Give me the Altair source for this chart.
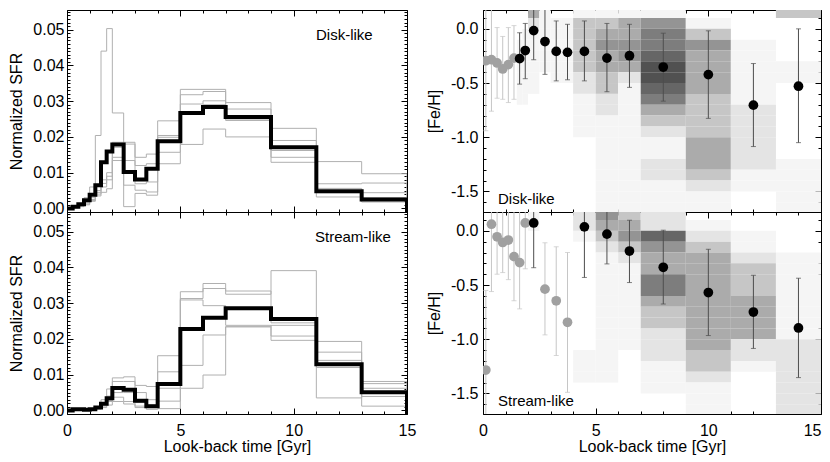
import altair as alt
import pandas as pd

FONT = "Liberation Sans"

# ---------------- data ----------------
# age-bin edges and centres (Gyr)
edges = [0.0, 0.25, 0.5, 0.75, 1.0, 1.25, 1.5, 1.75, 2.0, 2.5, 3.0, 3.5, 4.0, 5.0, 6.0, 7.0, 9.0, 11.0, 13.0, 15.0]
centers = [0.125, 0.375, 0.625, 0.875, 1.125, 1.375, 1.625, 1.875, 2.25, 2.75, 3.25, 3.75, 4.5, 5.5, 6.5, 8.0, 10.0, 12.0, 14.0]

# normalized SFR per bin: best fit (thick) and individual runs (thin)
disk_sfr = [0.0000, 0.0005, 0.0012, 0.0023, 0.0038, 0.0065, 0.0129, 0.0159, 0.0179, 0.0102, 0.0081, 0.0111, 0.0188, 0.0267, 0.0284, 0.0256, 0.0171, 0.0048, 0.0025]
disk_run1 = [0.0000, 0.0003, 0.0010, 0.0030, 0.0060, 0.0204, 0.0440, 0.0503, 0.0267, 0.0005, 0.0042, 0.0037, 0.0245, 0.0333, 0.0333, 0.0296, 0.0224, 0.0131, 0.0097]
disk_run2 = [0.0000, 0.0002, 0.0005, 0.0010, 0.0020, 0.0035, 0.0045, 0.0055, 0.0134, 0.0065, 0.0051, 0.0046, 0.0125, 0.0179, 0.0222, 0.0200, 0.0143, 0.0032, 0.0018]
disk_run3 = [0.0000, 0.0004, 0.0010, 0.0018, 0.0030, 0.0050, 0.0080, 0.0100, 0.0185, 0.0185, 0.0143, 0.0152, 0.0204, 0.0318, 0.0327, 0.0278, 0.0190, 0.0069, 0.0071]
disk_run4 = [0.0000, 0.0003, 0.0008, 0.0015, 0.0025, 0.0045, 0.0070, 0.0090, 0.0171, 0.0180, 0.0120, 0.0125, 0.0199, 0.0292, 0.0301, 0.0250, 0.0162, 0.0056, 0.0044]
disk_run5 = [0.0000, 0.0002, 0.0006, 0.0012, 0.0022, 0.0040, 0.0060, 0.0080, 0.0143, 0.0134, 0.0069, 0.0074, 0.0157, 0.0270, 0.0290, 0.0246, 0.0129, 0.0044, 0.0030]

stream_sfr = [0.0000, 0.0003, 0.0003, 0.0002, 0.0003, 0.0008, 0.0019, 0.0034, 0.0063, 0.0058, 0.0027, 0.0012, 0.0074, 0.0228, 0.0259, 0.0286, 0.0256, 0.0129, 0.0051]
stream_run1 = [0.0000, 0.0000, 0.0002, 0.0003, 0.0005, 0.0010, 0.0030, 0.0060, 0.0091, 0.0094, 0.0070, 0.0067, 0.0153, 0.0332, 0.0355, 0.0334, 0.0245, 0.0193, 0.0081]
stream_run2 = [0.0000, 0.0002, 0.0003, 0.0003, 0.0004, 0.0008, 0.0020, 0.0040, 0.0081, 0.0081, 0.0050, 0.0030, 0.0108, 0.0313, 0.0341, 0.0325, 0.0391, 0.0035, 0.0062]
stream_run3 = [0.0000, 0.0000, 0.0001, 0.0002, 0.0003, 0.0005, 0.0012, 0.0025, 0.0050, 0.0050, 0.0022, 0.0015, 0.0062, 0.0309, 0.0293, 0.0238, 0.0208, 0.0163, 0.0075]
stream_run4 = [0.0000, 0.0001, 0.0002, 0.0002, 0.0003, 0.0006, 0.0015, 0.0028, 0.0037, 0.0025, 0.0012, 0.0008, 0.0026, 0.0126, 0.0211, 0.0234, 0.0238, 0.0120, 0.0039]
stream_run5 = [0.0000, 0.0000, 0.0001, 0.0001, 0.0002, 0.0004, 0.0008, 0.0015, 0.0025, 0.0018, 0.0008, 0.0003, 0.0005, 0.0062, 0.0099, 0.0234, 0.0196, 0.0140, 0.0012]

# [Fe/H] per bin, error bar ends, and whether the bin is well populated
disk_feh = [-0.294, -0.285, -0.315, -0.37, -0.33, -0.27, -0.275, -0.20, -0.016, -0.117, -0.208, -0.217, -0.208, -0.27, -0.248, -0.352, -0.422, -0.704, -0.529]
disk_lo = [-0.94, -0.76, -0.64, -0.65, -0.68, -0.65, -0.51, -0.46, -0.285, -0.42, -0.48, -0.47, -0.48, -0.58, -0.54, -0.667, -0.826, -1.086, -1.05]
disk_hi = [0.3, 0.3, 0.012, -0.07, 0.012, 0.03, -0.036, 0.05, 0.3, 0.3, 0.073, 0.042, 0.073, 0.05, 0.042, -0.04, -0.018, -0.32, 0.0]
disk_ok = [False] * 6 + [True] * 13

stream_feh = [-1.284, 0.061, -0.055, -0.107, -0.085, -0.238, -0.293, 0.073, 0.073, -0.538, -0.645, -0.844, 0.037, -0.03, -0.186, -0.336, -0.569, -0.749, -0.896]
stream_lo = [-1.8, -0.56, -0.40, -0.385, -0.45, -0.645, -0.72, -0.35, -0.34, -0.96, -1.15, -1.49, -0.43, -0.305, -0.477, -0.675, -0.966, -1.085, -1.354]
stream_hi = [-0.55, 0.3, 0.3, 0.3, 0.3, 0.3, 0.3, 0.3, 0.3, -0.11, -0.147, -0.2, 0.3, 0.3, 0.098, 0.006, -0.17, -0.41, -0.437]
stream_ok = [False] * 8 + [True] + [False] * 3 + [True] * 7

# 2-D density behind the [Fe/H] points: one string per age bin,
# one digit (0 = empty .. 9 = densest) per 0.1-dex row, top row first
feh_row_top = [0.2, 0.1, 0.0, -0.1, -0.2, -0.3, -0.4, -0.5, -0.6, -0.7, -0.8, -0.9, -1.0, -1.1, -1.2, -1.3, -1.4, -1.5, -1.6]
disk_density = [
    "0000000000000000000", "0000000000000000000", "0000000000000000000", "0000000000000000000",
    "0000000000000000000", "0000000000000000000", "0001111110000000000", "0011111110000000000",
    "4211111100000000000", "1111110000000000000", "0111111000000000000", "0111111000000000000",
    "1333332211110000000", "1345443322111111111", "1445542111111111111", "1566788764321122111",
    "0135444433334443211", "0001111112222221100", "3000011000000011111",
]
stream_density = [
    "0000000000000000000", "0000000000000000000", "0000000000000000000", "0000000000000000000",
    "0000000000000000000", "0000000000000000000", "0000000000000000000", "0000000000000000000",
    "1100000000000000000", "0000000000000000000", "0000000000000000000", "0000000000000000000",
    "2210000000000111000", "5432111111111111000", "3453211111111000000", "2275446643322211100",
    "0123444444444332111", "0011233344442210000", "0000111111112222222",
]

# axis tick positions
t_major = [0, 5, 10, 15]
t_minor = list(range(0, 16))
sfr_major = [0.0, 0.01, 0.02, 0.03, 0.04, 0.05]
sfr_minor = [round(0.001 * i, 3) for i in range(0, 56)]
feh_major = [-1.5, -1.0, -0.5, 0.0]
feh_minor = [-1.7, -1.6, -1.5, -1.4, -1.3, -1.2, -1.1, -1.0, -0.9, -0.8, -0.7, -0.6, -0.5, -0.4, -0.3, -0.2, -0.1, 0.0, 0.1]

T_DOM = [0, 15]
SFR_DOM = [-0.001, 0.0555]
FEH_DOM = [-1.69, 0.174]

GRAYS = ["#ffffff", "#f5f5f5", "#e4e4e4", "#c6c6c6", "#ababab", "#949494", "#7d7d7d", "#666666", "#515151", "#3e3e3e"]

# ---------------- frames ----------------
def sfr_frame(series):
    rows = []
    for name, vals in series:
        pts = list(zip(edges[:-1], vals)) + [(edges[-1], vals[-1]), (edges[-1], SFR_DOM[0])]
        for i, (t, v) in enumerate(pts):
            rows.append({"series": name, "t": t, "sfr": v, "order": i})
    return pd.DataFrame(rows)


def density_frame(cols):
    rows = []
    for i, col in enumerate(cols):
        for j, ch in enumerate(col):
            lev = int(ch)
            if lev > 0:
                rows.append({"t0": edges[i], "t1": edges[i + 1],
                             "f1": min(feh_row_top[j], FEH_DOM[1]),
                             "f0": max(round(feh_row_top[j] - 0.1, 1), FEH_DOM[0]),
                             "level": lev})
    return pd.DataFrame(rows)


def feh_frame(feh, lo, hi, ok):
    return pd.DataFrame({"t": centers, "feh": feh,
                         "lo": [max(v, FEH_DOM[0]) for v in lo],
                         "hi": [min(v, FEH_DOM[1]) for v in hi],
                         "lo_raw": lo, "hi_raw": hi,
                         "grp": ["ok" if o else "low" for o in ok]})


def cap_frame(df):
    a = df[["t", "lo_raw", "grp"]].rename(columns={"lo_raw": "end"})
    b = df[["t", "hi_raw", "grp"]].rename(columns={"hi_raw": "end"})
    c = pd.concat([a, b], ignore_index=True)
    return c[(c["end"] > FEH_DOM[0]) & (c["end"] < FEH_DOM[1])]


# ---------------- helpers ----------------
xs = alt.Scale(domain=T_DOM, nice=False, zero=False)


def tick_axis(orient, values, size, **kw):
    # ticks drawn inward: axis shifted into the plot by the tick length
    args = dict(orient=orient, values=values, tickSize=size, offset=-size, ticks=True,
                domain=False, grid=False, labels=False, title=None, tickColor="black",
                tickWidth=1, minExtent=0)
    args.update(kw)
    return alt.Axis(**args)


def panel(content, frame, yf, ys, ymaj, ymin, ytitle, ylab_kw, show_x, width, label, lab_x, lab_y,
          last_flush):
    def inv(xa, ya):
        return alt.Chart(frame).mark_point(opacity=0).encode(
            x=alt.X("t:Q", scale=xs, axis=xa), y=alt.Y(f"{yf}:Q", scale=ys, axis=ya))
    if show_x:
        xkw = dict(labels=True, title="Look-back time [Gyr]", labelPadding=8, titlePadding=0,
                   labelFlush=False, format="d")
        if last_flush:
            xkw["labelAlign"] = {"condition": {"test": "datum.value >= 15", "value": "right"},
                                 "value": "center"}
        xa = tick_axis("bottom", t_major, 6, **xkw)
    else:
        xa = tick_axis("bottom", t_major, 6)
    ya = tick_axis("left", ymaj, 6, labels=True, title=ytitle, labelFlush=False, **ylab_kw)
    text = alt.Chart(pd.DataFrame({"txt": [label]})).mark_text(
        align="left", baseline="alphabetic", font=FONT, fontSize=15, color="black"
    ).encode(text="txt:N", x=alt.value(lab_x), y=alt.value(lab_y))
    layers = content + [
        text,
        inv(xa, ya),
        inv(tick_axis("bottom", t_minor, 3), tick_axis("left", ymin, 3)),
        inv(tick_axis("top", t_major, 6), tick_axis("right", ymaj, 6)),
        inv(tick_axis("top", t_minor, 3), tick_axis("right", ymin, 3)),
    ]
    return alt.layer(*layers).resolve_axis(x="independent", y="independent").properties(
        width=width, height=202)


def sfr_panel(best, runs, show_x, label, lab_x):
    ys = alt.Scale(domain=SFR_DOM, nice=False, zero=False)
    runs_df = sfr_frame([(f"run{k}", r) for k, r in enumerate(runs)])
    best_df = sfr_frame([("best", best)])
    thin = alt.Chart(runs_df).mark_line(interpolate="step-after", clip=True, color="#b0b0b0",
                                        strokeWidth=1).encode(
        x=alt.X("t:Q", scale=xs, axis=None), y=alt.Y("sfr:Q", scale=ys, axis=None),
        detail="series:N", order="order:Q")
    thick = alt.Chart(best_df).mark_line(interpolate="step-after", clip=True, color="black",
                                         strokeWidth=4).encode(
        x=alt.X("t:Q", scale=xs, axis=None), y=alt.Y("sfr:Q", scale=ys, axis=None),
        order="order:Q")
    return panel([thin, thick], best_df, "sfr", ys, sfr_major, sfr_minor, "Normalized SFR",
                 dict(format=".2f", labelPadding=3, titlePadding=8), show_x, 340, label, lab_x, 30,
                 False)


def feh_panel(density, feh, lo, hi, ok, show_x, label):
    ys = alt.Scale(domain=FEH_DOM, nice=False, zero=False)
    dens = density_frame(density)
    pts = feh_frame(feh, lo, hi, ok)
    caps = cap_frame(pts)
    bar_scale = alt.Scale(domain=["low", "ok"], range=["#c6c6c6", "#4d4d4d"])
    heat = alt.Chart(dens).mark_rect(clip=True).encode(
        x=alt.X("t0:Q", scale=xs, axis=None), x2="t1:Q",
        y=alt.Y("f0:Q", scale=ys, axis=None), y2="f1:Q",
        color=alt.Color("level:Q", scale=alt.Scale(domain=list(range(10)), range=GRAYS), legend=None))
    bars = alt.Chart(pts).mark_rule(clip=True, strokeWidth=1).encode(
        x=alt.X("t:Q", scale=xs, axis=None), y=alt.Y("lo:Q", scale=ys, axis=None), y2="hi:Q",
        stroke=alt.Stroke("grp:N", scale=bar_scale, legend=None))
    capm = alt.Chart(caps).mark_tick(clip=True, orient="horizontal", size=5, thickness=1).encode(
        x=alt.X("t:Q", scale=xs, axis=None), y=alt.Y("end:Q", scale=ys, axis=None),
        color=alt.Color("grp:N", scale=bar_scale, legend=None))
    dots = alt.Chart(pts).mark_circle(clip=True, size=95, opacity=1).encode(
        x=alt.X("t:Q", scale=xs, axis=None), y=alt.Y("feh:Q", scale=ys, axis=None),
        fill=alt.Fill("grp:N", scale=alt.Scale(domain=["low", "ok"], range=["#a0a0a0", "#000000"]),
                      legend=None))
    lab = dict(labelExpr="datum.value < 0 ? '-' + format(-datum.value, '.1f') : format(datum.value, '.1f')",
               labelPadding=5, titlePadding=8)
    return panel([heat, bars, capm, dots], pts, "feh", ys, feh_major, feh_minor, "[Fe/H]", lab,
                 show_x, 338, label, 15, 194, True)


tl = sfr_panel(disk_sfr, [disk_run1, disk_run2, disk_run3, disk_run4, disk_run5], False, "Disk-like", 249)
bl = sfr_panel(stream_sfr, [stream_run1, stream_run2, stream_run3, stream_run4, stream_run5], True, "Stream-like", 248)
tr = feh_panel(disk_density, disk_feh, disk_lo, disk_hi, disk_ok, False, "Disk-like")
br = feh_panel(stream_density, stream_feh, stream_lo, stream_hi, stream_ok, True, "Stream-like")

chart = alt.concat(
    tl, tr, bl, br, columns=2, spacing={"row": 0, "column": 76}, bounds="flush"
).properties(
    padding={"left": 0, "top": 1, "right": 0, "bottom": 0}
).configure_view(
    stroke="black", strokeWidth=1
).configure_axis(
    labelFont=FONT, titleFont=FONT, labelFontSize=16, titleFontSize=16,
    titleFontWeight="normal", labelColor="black", titleColor="black"
)

chart.save("out.html", embed_options={"renderer": "svg", "actions": False})
